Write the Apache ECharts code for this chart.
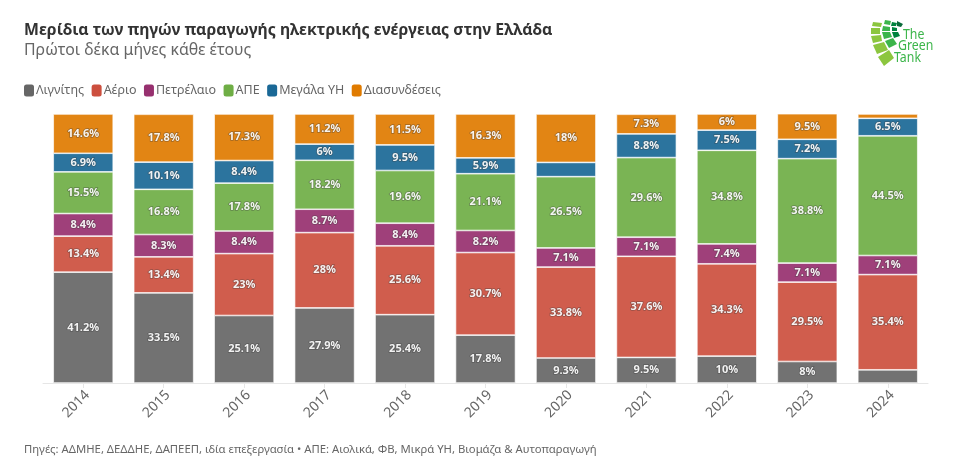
<!DOCTYPE html>
<html>
<head>
<meta charset="utf-8">
<style>
  html, body { margin: 0; padding: 0; background: #fff; }
  #chart { width: 979px; height: 476px; }
</style>
<script src="https://cdn.jsdelivr.net/npm/echarts@6/dist/echarts.min.js"></script>
</head>
<body>
<div id="chart"></div>
<script>
var years = ['2014', '2015', '2016', '2017', '2018', '2019', '2020', '2021', '2022', '2023', '2024'];
var lignite = [41.2, 33.5, 25.1, 27.9, 25.4, 17.8, 9.3, 9.5, 10, 8, 4.9];
var gas = [13.4, 13.4, 23, 28, 25.6, 30.7, 33.8, 37.6, 34.3, 29.5, 35.4];
var oil = [8.4, 8.3, 8.4, 8.7, 8.4, 8.2, 7.1, 7.1, 7.4, 7.1, 7.1];
var res = [15.5, 16.8, 17.8, 18.2, 19.6, 21.1, 26.5, 29.6, 34.8, 38.8, 44.5];
var hydro = [6.9, 10.1, 8.4, 6, 9.5, 5.9, 5.3, 8.8, 7.5, 7.2, 6.5];
var imports = [14.6, 17.8, 17.3, 11.2, 11.5, 16.3, 18, 7.3, 6, 9.5, 1.6];

var FONT = '"Noto Sans", sans-serif';
var chart = echarts.init(document.getElementById('chart'));

function makeSeries(name, values, color) {
    return {
        name: name,
        type: 'bar',
        stack: 'share',
        barWidth: 60,
        data: values,
        itemStyle: {
            color: color,
            opacity: 0.92,
            borderColor: '#fff',
            borderWidth: 0.7
        },
        label: {
            show: true,
            position: 'inside',
            color: '#fff',
            fontFamily: FONT,
            fontWeight: 'bold',
            fontSize: 11,
            textBorderColor: 'rgba(60,60,60,0.45)',
            textBorderWidth: 1.5,
            formatter: function (p) {
                // τα πολύ μικρά / χωρίς ετικέτα κελιά της αρχικής εικόνας
                if (p.value < 5 || (p.name === '2020' && name === 'Μεγάλα ΥΗ')) return '';
                return p.value + '%';
            }
        }
    };
}

// logo squares, [x, y] in page pixels
var logoCells = [
    ['#8cc63f', [[873, 22], [882, 23], [881, 27], [872, 26]]],
    ['#8cc63f', [[871, 28], [880, 28], [880, 34], [871, 34]]],
    ['#8cc63f', [[871, 36], [881, 35], [882, 41], [873, 43]]],
    ['#8cc63f', [[873, 45], [884, 42], [888, 50], [877, 54]]],
    ['#8cc63f', [[878, 57], [889, 50], [894, 58], [884, 66]]],
    ['#3cb54a', [[885, 20], [891, 21], [890, 25], [884, 24]]],
    ['#3cb54a', [[883, 26], [890, 27], [890, 31], [882, 31]]],
    ['#3cb54a', [[882, 32], [890, 32], [892, 37], [884, 39]]],
    ['#3cb54a', [[885, 41], [893, 38], [897, 44], [889, 48]]],
    ['#00833e', [[892, 22], [897, 23], [896, 26], [891, 26]]],
    ['#00833e', [[892, 27], [897, 28], [897, 31], [892, 31]]],
    ['#00833e', [[892, 32], [898, 32], [900, 36], [894, 38]]],
    ['#0a6b3a', [[897, 21], [903, 24], [901, 27], [897, 26]]]
];

var logoGraphics = logoCells.map(function (c) {
    return { type: 'polygon', shape: { points: c[1] }, style: { fill: c[0] } };
});
var logoWords = [['The', 903, 35], ['Green', 898, 46], ['Tank', 894, 58]];
logoWords.forEach(function (w) {
    logoGraphics.push({
        type: 'text',
        x: w[1],
        y: w[2],
        scaleX: 0.85,
        style: {
            text: w[0],
            fill: '#3cb54a',
            font: '14.5px "Noto Sans", sans-serif',
            verticalAlign: 'middle'
        }
    });
});

var option = {
    animation: false,
    backgroundColor: '#fff',
    color: ['#666666', '#cc4f3e', '#97306f', '#6fae45', '#1a6896', '#e07b00'],
    title: [
        {
            text: 'Μερίδια των πηγών παραγωγής ηλεκτρικής ενέργειας στην Ελλάδα',
            left: 19, top: 17,
            textStyle: { fontFamily: FONT, fontSize: 15.8, fontWeight: 'bold', color: '#333' }
        },
        {
            text: 'Πρώτοι δέκα μήνες κάθε έτους',
            left: 19, top: 37,
            textStyle: { fontFamily: FONT, fontSize: 15.9, fontWeight: 'normal', color: '#666' }
        },
        {
            text: 'Πηγές: ΑΔΜΗΕ, ΔΕΔΔΗΕ, ΔΑΠΕΕΠ, ιδία επεξεργασία • ΑΠΕ: Αιολικά, ΦΒ, Μικρά ΥΗ, Βιομάζα & Αυτοπαραγωγή',
            left: 19, top: 439,
            textStyle: { fontFamily: FONT, fontSize: 11.3, fontWeight: 'normal', color: '#666' }
        }
    ],
    legend: {
        left: 19,
        top: 79,
        icon: 'roundRect',
        itemWidth: 10,
        itemHeight: 12,
        itemGap: 7.5,
        itemStyle: { opacity: 1, borderWidth: 0 },
        textStyle: { fontFamily: FONT, fontSize: 12.5, color: '#666', padding: [0, 0, 0, -3] },
        selectedMode: false
    },
    grid: { left: 43, right: 51, top: 114, bottom: 93 },
    xAxis: {
        type: 'category',
        data: years,
        axisLine: { lineStyle: { color: '#e6e6e6' } },
        axisTick: { show: true, alignWithLabel: true, length: 5, lineStyle: { color: '#e6e6e6' } },
        axisLabel: {
            rotate: 45,
            interval: 0,
            margin: 14,
            padding: [0, -6, 0, 0],
            fontFamily: FONT,
            fontSize: 14,
            color: '#666'
        }
    },
    yAxis: { type: 'value', min: 0, max: 100, show: false },
    series: [
        makeSeries('Λιγνίτης', lignite, '#666666'),
        makeSeries('Αέριο', gas, '#cc4f3e'),
        makeSeries('Πετρέλαιο', oil, '#97306f'),
        makeSeries('ΑΠΕ', res, '#6fae45'),
        makeSeries('Μεγάλα ΥΗ', hydro, '#1a6896'),
        makeSeries('Διασυνδέσεις', imports, '#e07b00')
    ],
    graphic: logoGraphics
};

chart.setOption(option);
</script>
</body>
</html>
